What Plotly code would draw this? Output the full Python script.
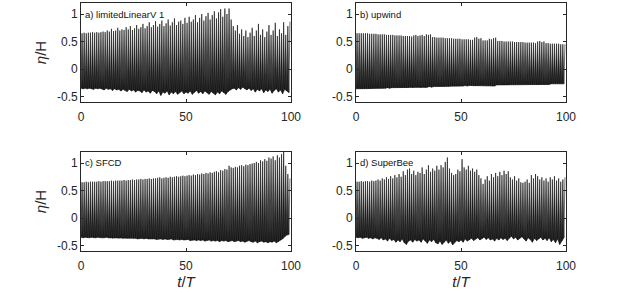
import numpy as np
import plotly.graph_objects as go

# ---- data: per-wave-period crest and trough elevations (eta/H) ----
titles = ["a) limitedLinearV 1", "b) upwind", "c) SFCD", "d) SuperBee"]
x_ticks = [0, 50, 100]
y_ticks = [-0.5, 0, 0.5, 1]

crest_a = [0.65,0.66,0.65,0.66,0.66,0.67,0.66,0.67,0.66,0.67,
           0.68,0.67,0.70,0.68,0.73,0.69,0.70,0.75,0.70,0.72,
           0.71,0.76,0.72,0.78,0.71,0.74,0.80,0.73,0.76,0.82,
           0.74,0.78,0.85,0.76,0.80,0.87,0.77,0.82,0.88,0.78,
           0.83,0.90,0.79,0.85,0.92,0.80,0.86,0.88,0.82,0.93,
           0.84,0.95,0.86,0.90,0.98,0.85,0.93,1.00,0.88,0.96,
           1.02,0.90,0.98,1.05,0.92,1.03,1.09,0.95,1.10,1.00,
           1.10,0.90,0.78,0.70,0.80,0.64,0.72,0.60,0.70,0.58,
           0.66,0.75,0.60,0.70,0.82,0.62,0.72,0.58,0.68,0.80,
           0.62,0.70,0.84,0.60,0.72,0.65,0.85,0.62,0.78,0.86]
trough_a = [-0.35,-0.36,-0.35,-0.36,-0.35,-0.36,-0.37,-0.35,-0.36,-0.35,
            -0.36,-0.38,-0.35,-0.37,-0.36,-0.39,-0.36,-0.38,-0.37,-0.40,
            -0.37,-0.39,-0.41,-0.37,-0.40,-0.38,-0.42,-0.39,-0.40,-0.43,
            -0.38,-0.42,-0.40,-0.44,-0.39,-0.41,-0.45,-0.40,-0.48,-0.42,
            -0.44,-0.40,-0.47,-0.42,-0.45,-0.41,-0.46,-0.43,-0.40,-0.45,
            -0.42,-0.44,-0.40,-0.46,-0.42,-0.39,-0.44,-0.41,-0.45,-0.40,
            -0.43,-0.46,-0.41,-0.44,-0.47,-0.42,-0.45,-0.40,-0.43,-0.46,
            -0.41,-0.38,-0.36,-0.35,-0.38,-0.34,-0.37,-0.33,-0.36,-0.38,
            -0.35,-0.39,-0.36,-0.42,-0.37,-0.40,-0.36,-0.43,-0.38,-0.41,
            -0.37,-0.44,-0.39,-0.36,-0.42,-0.38,-0.45,-0.37,-0.40,-0.43]

crest_b = [0.65,0.65,0.65,0.65,0.65,0.65,0.64,0.64,0.64,0.64,
           0.63,0.63,0.63,0.63,0.62,0.62,0.62,0.62,0.61,0.61,
           0.61,0.61,0.60,0.60,0.60,0.60,0.59,0.61,0.62,0.60,
           0.61,0.62,0.60,0.63,0.62,0.63,0.58,0.58,0.57,0.57,
           0.57,0.57,0.56,0.56,0.56,0.56,0.55,0.55,0.55,0.55,
           0.54,0.54,0.54,0.54,0.53,0.53,0.57,0.58,0.55,0.56,
           0.52,0.52,0.52,0.55,0.54,0.56,0.57,0.51,0.51,0.51,
           0.50,0.50,0.50,0.50,0.50,0.49,0.49,0.49,0.49,0.49,
           0.48,0.48,0.48,0.48,0.48,0.47,0.50,0.51,0.49,0.50,
           0.47,0.47,0.46,0.46,0.46,0.46,0.46,0.45,0.45,0.45]
trough_b = [-0.36,-0.36,-0.36,-0.36,-0.36,-0.36,-0.35,-0.36,-0.35,-0.35,
            -0.35,-0.35,-0.35,-0.35,-0.35,-0.34,-0.35,-0.34,-0.34,-0.34,
            -0.34,-0.34,-0.34,-0.33,-0.34,-0.33,-0.33,-0.34,-0.33,-0.33,
            -0.33,-0.34,-0.33,-0.34,-0.33,-0.32,-0.33,-0.32,-0.32,-0.32,
            -0.32,-0.32,-0.32,-0.31,-0.32,-0.31,-0.31,-0.31,-0.31,-0.31,
            -0.31,-0.31,-0.30,-0.31,-0.30,-0.30,-0.31,-0.31,-0.30,-0.30,
            -0.30,-0.30,-0.30,-0.30,-0.30,-0.30,-0.31,-0.29,-0.29,-0.29,
            -0.29,-0.29,-0.29,-0.29,-0.29,-0.29,-0.29,-0.29,-0.28,-0.28,
            -0.28,-0.28,-0.28,-0.28,-0.28,-0.28,-0.29,-0.29,-0.28,-0.28,
            -0.28,-0.28,-0.28,-0.27,-0.27,-0.27,-0.27,-0.27,-0.27,-0.27]

crest_c = [0.65,0.65,0.66,0.65,0.66,0.66,0.66,0.66,0.67,0.66,
           0.67,0.67,0.67,0.67,0.68,0.67,0.68,0.68,0.68,0.68,
           0.69,0.68,0.69,0.69,0.70,0.69,0.70,0.70,0.71,0.70,
           0.71,0.71,0.72,0.71,0.72,0.72,0.73,0.74,0.72,0.73,
           0.74,0.73,0.75,0.74,0.75,0.76,0.75,0.76,0.77,0.76,
           0.77,0.78,0.77,0.79,0.78,0.80,0.79,0.81,0.80,0.82,
           0.81,0.83,0.82,0.84,0.85,0.83,0.87,0.86,0.89,0.88,
           0.95,0.92,0.91,0.93,0.92,0.95,0.96,0.94,0.97,0.96,
           0.98,0.99,1.00,1.02,1.00,1.05,1.03,1.07,1.04,1.10,
           1.08,1.12,1.05,1.14,1.10,1.16,1.22,0.95,0.80,0.72]
trough_c = [-0.35,-0.36,-0.35,-0.36,-0.36,-0.35,-0.36,-0.36,-0.35,-0.36,
            -0.36,-0.36,-0.35,-0.36,-0.36,-0.37,-0.36,-0.36,-0.37,-0.36,
            -0.37,-0.36,-0.37,-0.37,-0.36,-0.37,-0.37,-0.38,-0.37,-0.37,
            -0.38,-0.37,-0.38,-0.38,-0.37,-0.38,-0.39,-0.38,-0.38,-0.39,
            -0.38,-0.39,-0.39,-0.38,-0.40,-0.39,-0.39,-0.40,-0.39,-0.40,
            -0.40,-0.39,-0.41,-0.40,-0.40,-0.41,-0.40,-0.41,-0.40,-0.42,
            -0.41,-0.40,-0.42,-0.41,-0.42,-0.41,-0.43,-0.41,-0.42,-0.41,
            -0.43,-0.42,-0.41,-0.43,-0.42,-0.41,-0.43,-0.42,-0.44,-0.42,
            -0.41,-0.43,-0.44,-0.42,-0.45,-0.43,-0.42,-0.44,-0.43,-0.45,
            -0.43,-0.44,-0.42,-0.45,-0.43,-0.40,-0.38,-0.34,-0.31,-0.30]

crest_d = [0.66,0.66,0.67,0.66,0.67,0.67,0.66,0.68,0.67,0.68,
           0.70,0.68,0.72,0.70,0.74,0.71,0.76,0.72,0.78,0.74,
           0.80,0.75,0.85,0.78,0.88,0.90,0.80,0.86,0.78,0.84,
           0.82,0.92,0.80,0.88,0.96,0.84,0.90,0.86,0.95,0.88,
           0.96,0.92,1.02,1.10,0.90,0.82,0.78,0.80,0.88,0.85,
           1.07,0.92,0.88,0.95,0.86,0.90,0.84,0.88,0.78,0.72,
           0.62,0.70,0.76,0.68,0.80,0.74,0.82,0.76,0.84,0.78,
           0.86,0.80,0.85,0.74,0.70,0.76,0.68,0.72,0.65,0.64,
           0.66,0.70,0.64,0.78,0.72,0.80,0.76,0.70,0.74,0.68,
           0.72,0.66,0.74,0.70,0.76,0.68,0.72,0.66,0.70,0.74]
trough_d = [-0.35,-0.36,-0.35,-0.37,-0.36,-0.35,-0.37,-0.36,-0.38,-0.36,
            -0.37,-0.39,-0.36,-0.40,-0.38,-0.42,-0.37,-0.41,-0.39,-0.44,
            -0.40,-0.43,-0.38,-0.45,-0.48,-0.42,-0.40,-0.44,-0.39,-0.42,
            -0.40,-0.44,-0.38,-0.42,-0.46,-0.40,-0.43,-0.39,-0.45,-0.47,
            -0.42,-0.48,-0.44,-0.40,-0.46,-0.42,-0.49,-0.44,-0.41,-0.43,
            -0.40,-0.44,-0.38,-0.42,-0.40,-0.37,-0.41,-0.38,-0.36,-0.40,
            -0.37,-0.35,-0.39,-0.36,-0.40,-0.38,-0.42,-0.37,-0.40,-0.36,
            -0.39,-0.37,-0.41,-0.36,-0.33,-0.38,-0.35,-0.40,-0.37,-0.34,
            -0.38,-0.42,-0.36,-0.39,-0.44,-0.37,-0.41,-0.38,-0.35,-0.40,
            -0.37,-0.41,-0.36,-0.43,-0.39,-0.45,-0.38,-0.48,-0.42,-0.36]

crests = [crest_a, crest_b, crest_c, crest_d]
troughs = [trough_a, trough_b, trough_c, trough_d]

# ---- figure ----
W, H = 625, 293
fig = go.Figure()

x_domains = [[81/W, 291/W], [356/W, 566/W]]
y_domains = [[1-102/H, 1-3/H], [1-251/H, 1-152/H]]
axis_col = "#262626"
font_fam = "Liberation Sans, Arial, Helvetica, sans-serif"

for k in range(4):
    row, col = divmod(k, 2)
    c = np.array(crests[k]); tr = np.array(troughs[k])
    n = len(c)
    cyc = np.arange(n)
    t = np.empty(2 * n); eta = np.empty(2 * n)
    t[0::2] = cyc; t[1::2] = cyc + 0.5
    eta[0::2] = tr; eta[1::2] = c
    xa = "x" if k == 0 else f"x{k+1}"
    ya = "y" if k == 0 else f"y{k+1}"
    # trough envelope (base of the fill)
    fig.add_trace(go.Scatter(x=cyc, y=tr, mode="lines", xaxis=xa, yaxis=ya,
                             line=dict(color="#111111", width=0.6),
                             showlegend=False, hoverinfo="skip"))
    # surface elevation record
    fig.add_trace(go.Scatter(x=t, y=eta, mode="lines", xaxis=xa, yaxis=ya,
                             line=dict(color="#0d0d0d", width=0.6),
                             fill="tonexty", fillcolor="rgba(20,20,20,0.9)",
                             showlegend=False, hoverinfo="skip"))
    suffix = "" if k == 0 else str(k + 1)
    common = dict(showline=True, mirror="ticks", linecolor=axis_col, linewidth=0.8,
                  ticks="inside", ticklen=3, tickcolor=axis_col, tickwidth=0.8,
                  showgrid=False, zeroline=False, automargin=False,
                  tickfont=dict(family=font_fam, size=12, color=axis_col))
    fig.layout["xaxis" + suffix] = dict(common, domain=x_domains[col], range=[0, 100],
                                       tickvals=x_ticks, ticktext=[str(v) for v in x_ticks],
                                       ticklabelstandoff=4, anchor=ya)
    fig.layout["yaxis" + suffix] = dict(common, domain=y_domains[row], range=[-0.6, 1.2],
                                       tickvals=y_ticks, ticktext=["-0.5", "0", "0.5", "1"],
                                       anchor=xa)
    if row == 1:
        fig.layout["xaxis" + suffix].title = dict(text="<i>t</i>/<i>T</i>", standoff=4,
                                                  font=dict(family=font_fam, size=15, color=axis_col))
    if col == 0:
        fig.layout["yaxis" + suffix].title = dict(text="<i>η</i>/H", standoff=6,
                                                  font=dict(family=font_fam, size=15, color=axis_col))
    fig.add_annotation(x=0, y=1, xref=xa, yref=ya, text=titles[k], showarrow=False,
                       xanchor="left", yanchor="middle", xshift=2,
                       font=dict(family=font_fam, size=9.5, color="#111111"))

fig.update_layout(width=W, height=H, margin=dict(l=0, r=0, t=0, b=0, pad=0, autoexpand=False),
                  plot_bgcolor="white", paper_bgcolor="white")
fig.write_html("out.html", config={"displayModeBar": False},
               post_script="document.body.style.margin='0';")
